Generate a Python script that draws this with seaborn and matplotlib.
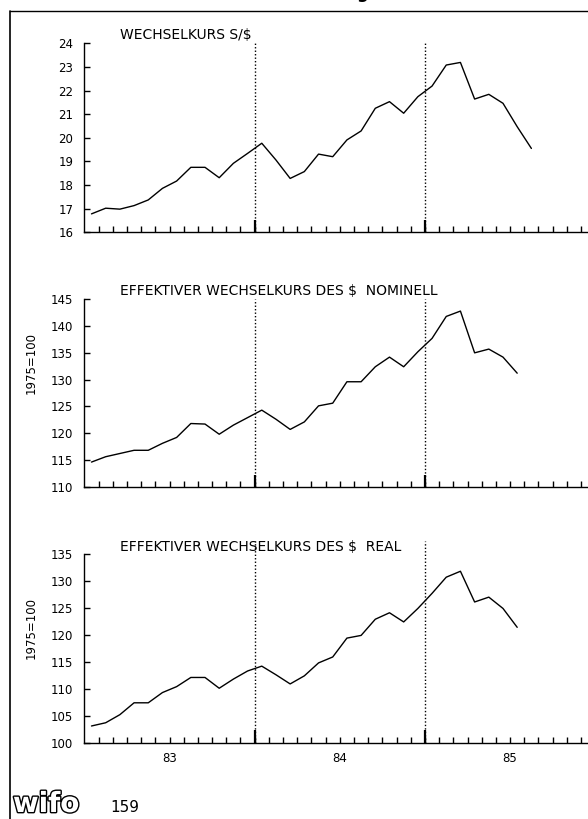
import matplotlib
matplotlib.use("Agg")
import matplotlib.pyplot as plt
import matplotlib.patheffects as pe
from matplotlib.lines import Line2D
import seaborn as sns

# monthly values from Jan 1983 on
schilling_per_dollar = [16.78, 17.02, 16.98, 17.13, 17.37, 17.86, 18.17, 18.75,
                        18.75, 18.31, 18.92, 19.34, 19.77, 19.06, 18.28, 18.57,
                        19.31, 19.20, 19.91, 20.29, 21.25, 21.53, 21.04, 21.74,
                        22.19, 23.08, 23.19, 21.64, 21.84, 21.46, 20.47, 19.55]
eff_nominal = [114.6, 115.6, 116.2, 116.8, 116.8, 118.1, 119.2, 121.8,
               121.7, 119.8, 121.5, 122.9, 124.3, 122.6, 120.7, 122.1,
               125.1, 125.6, 129.6, 129.6, 132.4, 134.2, 132.4, 135.2,
               137.7, 141.8, 142.8, 135.0, 135.7, 134.2, 131.2]
eff_real = [103.1, 103.7, 105.2, 107.4, 107.4, 109.3, 110.4, 112.1,
            112.1, 110.1, 111.8, 113.3, 114.2, 112.6, 110.9, 112.4,
            114.8, 115.9, 119.4, 119.9, 122.9, 124.1, 122.4, 124.9,
            127.7, 130.7, 131.8, 126.1, 127.0, 124.9, 121.4]

titles = ["WECHSELKURS S/$", "EFFEKTIVER WECHSELKURS DES $  NOMINELL",
          "EFFEKTIVER WECHSELKURS DES $  REAL"]
year_labels = ["83", "84", "85"]
n_months = 36

sns.set_theme(style="white")
plt.rcParams["font.family"] = ["DejaVu Sans"]
plt.rcParams["text.color"] = "black"

fig = plt.figure(figsize=(5.88, 8.19), dpi=100)

W, H = 588, 819
left = 84.4 / W
width = n_months * 14.19 / W
panels = [
    (schilling_per_dollar, (43.3, 232.3), (16, 24, 1), None, 35),
    (eff_nominal, (299.3, 486.7), (110, 145, 5), 363, 291),
    (eff_real, (554.0, 742.7), (100, 135, 5), 628, 546.7),
]

for k, (vals, (top, bot), (ymin, ymax, step), ylab_y, title_y) in enumerate(panels):
    ax = fig.add_axes([left, 1 - bot / H, width, (bot - top) / H])
    x = [i + 0.5 for i in range(len(vals))]
    sns.lineplot(x=x, y=vals, ax=ax, color="black", linewidth=1.0)
    ax.set_xlim(0, n_months)
    ax.set_ylim(ymin, ymax)
    ax.set_yticks(range(ymin, ymax + 1, step))
    for s in ["top", "right"]:
        ax.spines[s].set_visible(False)
    for s in ["left", "bottom"]:
        ax.spines[s].set_color("black")
        ax.spines[s].set_linewidth(1.0)
    ax.tick_params(axis="y", left=True, direction="in", length=4, width=1, pad=8,
                   labelsize=8.5, colors="black")
    # month ticks, year labels in the middle of each year
    ax.set_xticks([6, 18, 30])
    ax.set_xticks(range(1, n_months), minor=True)
    if k == 2:
        ax.set_xticklabels(year_labels)
    else:
        ax.set_xticklabels([])
    ax.tick_params(axis="x", which="both", bottom=True, direction="in", length=4,
                   width=1, pad=7, labelsize=8.5, colors="black")
    bounds = [12, 24]
    ax.vlines(bounds, 0, 0.065, transform=ax.get_xaxis_transform(),
              color="black", linewidth=1.6)
    ax.vlines(bounds, 0, 1.07 if k == 2 else 1.0, transform=ax.get_xaxis_transform(),
              color="black", linewidth=1.0, linestyles=(0, (1, 1.5)), clip_on=False)
    ax.set_xlabel("")
    ax.set_ylabel("")
    fig.text(120 / W, 1 - title_y / H, titles[k], fontsize=10, va="center", ha="left")
    if ylab_y is not None:
        fig.text(31 / W, 1 - ylab_y / H, "1975=100", rotation=90,
                 fontsize=8.5, va="center", ha="center")

# frame of the page
fig.add_artist(Line2D([10 / W, 10 / W], [0, 1 - 11 / H], color="black", linewidth=1.2))
fig.add_artist(Line2D([10 / W, 1], [1 - 11 / H, 1 - 11 / H], color="black", linewidth=1.0))
fig.text(362 / W, 1 + 1.5 / H, "g", fontsize=12, weight="bold", ha="center", va="baseline")

# logo and page number
fig.text(13 / W, 1 - 812 / H, "wifo", fontsize=20, weight="bold", color="white",
         ha="left", va="baseline",
         path_effects=[pe.withStroke(linewidth=2, foreground="black")])
fig.text(110 / W, 1 - 808 / H, "159", fontsize=11, ha="left", va="center")

fig.savefig("out.png", dpi=100)
